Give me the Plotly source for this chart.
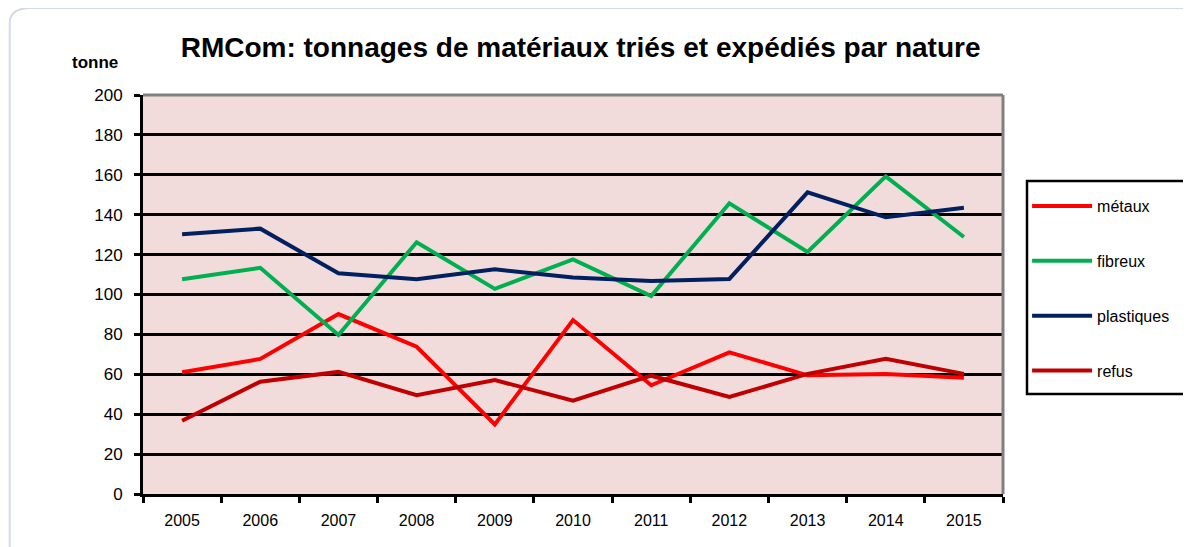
import plotly.graph_objects as go

years = ["2005", "2006", "2007", "2008", "2009", "2010", "2011", "2012", "2013", "2014", "2015"]
metaux = [61, 67.7, 90.2, 73.8, 34.9, 87.2, 54.5, 71, 59.5, 60.2, 58.3]
fibreux = [107.6, 113.4, 79.7, 126.2, 102.8, 117.6, 99.2, 145.7, 121.3, 159.2, 128.8]
plastiques = [130.2, 133, 110.6, 107.6, 112.6, 108.5, 106.8, 107.8, 151.2, 138.7, 143.5]
refus = [36.7, 56.3, 61.2, 49.5, 57.1, 46.8, 59.3, 48.6, 60.2, 67.8, 60.2]

series = [
    ("métaux", metaux, "#FF0000"),
    ("fibreux", fibreux, "#00B050"),
    ("plastiques", plastiques, "#002060"),
    ("refus", refus, "#C00000"),
]

FONT = "Liberation Sans, Arial, sans-serif"

fig = go.Figure()
for name, vals, col in series:
    fig.add_trace(go.Scatter(
        x=years, y=vals, name=name, mode="lines",
        line=dict(color=col, width=4),
        legendgroup=name,
    ))

W, H = 1183, 539
fig.update_layout(
    width=W, height=H,
    margin=dict(l=135, r=W - 135 - 860, t=87, b=H - 87 - 399),
    paper_bgcolor="white",
    plot_bgcolor="#F2DCDB",
    font=dict(family=FONT, color="black", size=15),
    title=dict(
        text="<b>RMCom: tonnages de matériaux triés et expédiés par nature</b>",
        x=0.484, xanchor="center", y=0.928, yanchor="middle",
        font=dict(size=28, family=FONT, color="black"),
    ),
    showlegend=True,
    legend=dict(
        x=1.028, xanchor="left", y=0.764, yanchor="top",
        bgcolor="rgba(0,0,0,0)", borderwidth=0,
        font=dict(size=16, family=FONT),
        tracegroupgap=31,
        itemwidth=60,
    ),
    xaxis=dict(
        type="category",
        showgrid=False,
        showline=True, linecolor="black", linewidth=3,
        ticks="outside", tickson="boundaries", ticklen=6, tickwidth=3, tickcolor="black",
        tickfont=dict(size=16),
        ticklabelstandoff=10,
        range=[-0.5, 10.5],
        zeroline=False,
    ),
    yaxis=dict(
        range=[0, 200], dtick=20,
        showgrid=True, gridcolor="black", gridwidth=3,
        showline=True, linecolor="black", linewidth=3,
        ticks="outside", ticklen=6, tickwidth=3, tickcolor="black",
        tickfont=dict(size=17),
        ticklabelstandoff=8,
        zeroline=False,
    ),
    shapes=[
        dict(type="line", xref="paper", yref="paper", x0=0, x1=1, y0=1, y1=1,
             line=dict(color="#808080", width=3), layer="above"),
        dict(type="line", xref="paper", yref="paper", x0=1, x1=1, y0=0, y1=1,
             line=dict(color="#808080", width=3), layer="above"),
        dict(type="path", xref="paper", yref="paper",
             path="M -0.155,-0.2 L -0.155,1.18 Q -0.155,1.218 -0.13,1.218 L 1.4,1.218",
             line=dict(color="#D3DAE6", width=2), layer="below"),
        dict(type="rect", xref="paper", yref="paper",
             x0=(1027 - 143) / 860, x1=1.3, y0=(494 - 394) / 399, y1=(494 - 181) / 399,
             fillcolor="white", line=dict(color="black", width=2.5), layer="below"),
    ],
    annotations=[
        dict(text="<b>tonne</b>", xref="paper", yref="paper",
             x=(95 - 143) / 860, y=(494 - 62) / 399, xanchor="center", yanchor="middle",
             showarrow=False, font=dict(size=17, family=FONT)),
    ],
)

fig.write_html("out.html")
